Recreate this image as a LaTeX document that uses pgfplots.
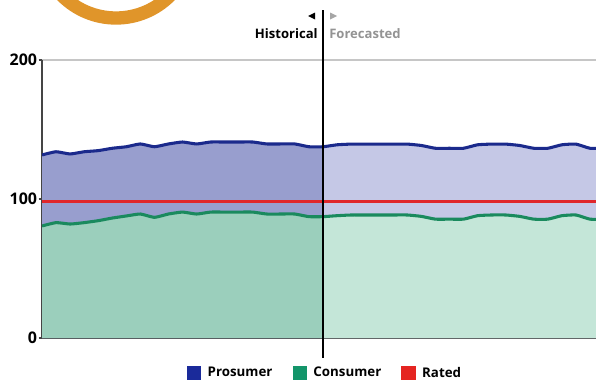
\documentclass[border=0pt]{standalone}
\usepackage{pgfplots}
\pgfplotsset{compat=1.18}
\usepackage{pgfplotstable}
\usepackage{fontspec}
\setmainfont{Open Sans}
\definecolor{proLine}{HTML}{1B2A8C}
\definecolor{conLine}{HTML}{1A8A5E}
\definecolor{ratedLine}{HTML}{E0262B}
\definecolor{proHist}{HTML}{989ECE}
\definecolor{proFore}{HTML}{C5C8E6}
\definecolor{conHist}{HTML}{9BCFBC}
\definecolor{conFore}{HTML}{C4E6D8}
\definecolor{proLeg}{HTML}{1A2A9A}
\definecolor{conLeg}{HTML}{13956A}
\definecolor{ratedLeg}{HTML}{E52521}
\definecolor{ring}{HTML}{E0952A}
\definecolor{axisgray}{HTML}{454545}

\pgfplotstableread{
x pro con rated
0 131.7 80.6 98.5
1 134.0 83.0 98.5
2 132.4 82.0 98.5
3 134.0 83.0 98.5
4 134.8 84.4 98.5
5 136.5 86.3 98.5
6 137.6 87.8 98.5
7 139.6 89.2 98.5
8 137.6 86.8 98.5
9 139.6 89.2 98.5
10 141.0 90.6 98.5
11 139.6 89.2 98.5
12 141.0 90.6 98.5
13 141.0 90.6 98.5
14 141.0 90.6 98.5
15 141.0 90.6 98.5
16 139.6 89.2 98.5
17 139.6 89.2 98.5
18 139.6 89.2 98.5
19 137.6 87.3 98.5
20 137.6 87.3 98.5
21 139.0 88.0 98.5
22 139.5 88.5 98.5
23 139.5 88.5 98.5
24 139.5 88.5 98.5
25 139.5 88.5 98.5
26 139.5 88.5 98.5
27 138.5 87.5 98.5
28 136.5 85.5 98.5
29 136.5 85.5 98.5
30 136.5 85.5 98.5
31 139.0 88.0 98.5
32 139.5 88.5 98.5
33 139.5 88.5 98.5
34 138.5 87.5 98.5
35 136.5 85.5 98.5
36 136.5 85.5 98.5
37 139.0 88.0 98.5
38 139.5 88.5 98.5
39 136.5 85.5 98.5
40 136.5 85.5 98.5
}\data

\begin{document}
\begin{tikzpicture}[x=0.75pt,y=0.75pt]
\useasboundingbox (0,0) rectangle (596,380);
\begin{scope}
\clip (0,0) rectangle (596,380);
\draw[ring, line width=10pt] (116,438) circle (57pt);
\end{scope}

\begin{axis}[
  at={(31.5pt,31.5pt)}, anchor=south west,
  scale only axis, width=415.5pt, height=208.5pt,
  xmin=0, xmax=39.43, ymin=0, ymax=200,
  ytick={0,100,200}, xtick=\empty,
  axis x line*=bottom, axis y line*=left,
  axis line style={axisgray, line width=1.4pt},
  ymajorgrids, grid style={gray!45, line width=0.9pt},
  major tick length=2.5pt,
  tick style={axisgray, line width=0.8pt},
  tick align=outside,
  /pgf/number format/assume math mode=true,
  yticklabel style={font=\bfseries\fontsize{12}{14}\selectfont, inner sep=1pt},
  legend image code/.code={\fill[#1] (0pt,-5pt) rectangle (10pt,5pt);},
  legend style={at={(0.509,-0.126)}, anchor=center, draw=none, fill=none,
    legend columns=3, font=\bfseries\fontsize{10}{12}\selectfont,
    nodes={inner sep=0pt},
    /tikz/every even column/.append style={column sep=15pt},
    /tikz/every odd column/.append style={column sep=5.25pt}},
]
% fills
\addplot[forget plot, draw=none, fill=proHist] table[x=x, y=pro, restrict x to domain=0:20] {\data} \closedcycle;
\addplot[forget plot, draw=none, fill=proFore] table[x=x, y=pro, restrict x to domain=20:40] {\data} \closedcycle;
\addplot[forget plot, draw=none, fill=conHist] table[x=x, y=con, restrict x to domain=0:20] {\data} \closedcycle;
\addplot[forget plot, draw=none, fill=conFore] table[x=x, y=con, restrict x to domain=20:40] {\data} \closedcycle;
% lines
\addplot[forget plot, proLine, line width=2.3pt, smooth, tension=0.3] table[x=x, y=pro] {\data};
\addplot[forget plot, conLine, line width=2.3pt, smooth, tension=0.3] table[x=x, y=con] {\data};
\addplot[forget plot, ratedLine, line width=2.3pt] table[x=x, y=rated] {\data};
% legend
\addlegendimage{proLeg}\addlegendentry{Prosumer}
\addlegendimage{conLeg}\addlegendentry{Consumer}
\addlegendimage{ratedLeg}\addlegendentry{Rated}
\end{axis}

\draw[black, line width=1.5pt] (323,370) -- (323,22);
\fill[black] (308,364) -- (315,367.5) -- (315,360.5) -- cycle;
\fill[gray!70] (330,367.5) -- (330,360.5) -- (337,364) -- cycle;
\node[anchor=base east, inner sep=0pt, font=\bfseries\fontsize{9.8}{11}\selectfont] at (318,342) {Historical};
\node[anchor=base west, inner sep=0pt, text=gray!85, font=\bfseries\fontsize{9.8}{11}\selectfont] at (329,342) {Forecasted};
\end{tikzpicture}
\end{document}
